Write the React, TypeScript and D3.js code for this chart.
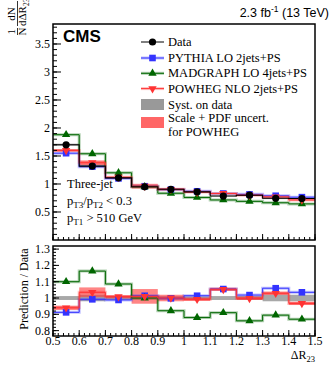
import React from "react";
import * as d3 from "d3";

// bin edges of Delta R23
const edges = [0.5, 0.6, 0.7, 0.8, 0.9, 1.0, 1.1, 1.2, 1.3, 1.4, 1.5];

// normalized distributions (top panel)
const dataVals = [1.70, 1.32, 1.11, 0.95, 0.905, 0.86, 0.785, 0.80, 0.745, 0.74];
const pythiaVals = [1.55, 1.31, 1.10, 0.96, 0.90, 0.87, 0.83, 0.815, 0.79, 0.765];
const madgraphVals = [1.88, 1.54, 1.20, 0.95, 0.835, 0.76, 0.715, 0.69, 0.665, 0.645];
const powhegVals = [1.60, 1.38, 1.12, 0.96, 0.905, 0.855, 0.83, 0.80, 0.77, 0.715];

// prediction / data (bottom panel)
const pythiaRatio = [0.912, 0.992, 0.988, 1.014, 0.998, 1.014, 1.055, 1.018, 1.06, 1.035];
const madgraphRatio = [1.10, 1.165, 1.086, 1.0, 0.922, 0.88, 0.91, 0.86, 0.895, 0.87];
const powhegRatio = [0.94, 1.035, 1.008, 1.01, 1.0, 0.992, 1.053, 0.998, 1.029, 0.967];
// half widths of bands
const powhegUnc = [0.013, 0.03, 0.01, 0.045, 0.02, 0.01, 0.01, 0.01, 0.01, 0.01];
const systUnc = [0.012, 0.02, 0.012, 0.01, 0.01, 0.01, 0.012, 0.012, 0.02, 0.02];

const topTicks = [0.5, 1, 1.5, 2, 2.5, 3, 3.5];
const ratioTicks = [0.8, 0.9, 1, 1.1, 1.2, 1.3];
const xTicks = [0.5, 0.6, 0.7, 0.8, 0.9, 1, 1.1, 1.2, 1.3, 1.4, 1.5];

const BLACK = "#000";
const BLUE = "#3333ff";
const GREEN = "#006600";
const RED = "#ff3333";
const SERIF = "'Liberation Serif', 'DejaVu Serif', serif";
const SANS = "'Liberation Sans', Arial, sans-serif";

const x = d3.scaleLinear().domain([0.5, 1.5]).range([53, 315]);
const yTop = d3.scaleLinear().domain([0, 3.857]).range([240, 24]);
const yBot = d3.scaleLinear().domain([0.767, 1.319]).range([336, 246]);

const stepPath = (vals: number[], y: d3.ScaleLinear<number, number>) => {
  const pts: [number, number][] = [];
  vals.forEach((v, i) => {
    pts.push([x(edges[i]), y(v)]);
    pts.push([x(edges[i + 1]), y(v)]);
  });
  return d3.line()(pts) || "";
};

const mid = (i: number) => (edges[i] + edges[i + 1]) / 2;

const Marker = ({ kind, cx, cy, color }: { kind: string; cx: number; cy: number; color: string }) => {
  if (kind === "circle") return <circle cx={cx} cy={cy} r={3.6} fill={color} />;
  if (kind === "square") return <rect x={cx - 3.3} y={cy - 3.3} width={6.6} height={6.6} fill={color} />;
  const sym = d3.symbol().type(d3.symbolTriangle).size(30)() || "";
  return <path d={sym} transform={`translate(${cx},${cy}) rotate(${kind === "down" ? 180 : 0})`} fill={color} />;
};

const series = [
  { name: "PYTHIA LO 2jets+PS", top: pythiaVals, ratio: pythiaRatio, color: BLUE, kind: "square" },
  { name: "MADGRAPH LO 4jets+PS", top: madgraphVals, ratio: madgraphRatio, color: GREEN, kind: "up" },
  { name: "POWHEG NLO 2jets+PS", top: powhegVals, ratio: powhegRatio, color: RED, kind: "down" },
];

const Ticks = ({ y, major, minorStep, lo, hi, majLen, minLen }: any) => {
  const minors = d3.range(Math.round(lo / minorStep), Math.round(hi / minorStep) + 1).map((k) => k * minorStep);
  return (
    <g stroke={BLACK} strokeWidth={1}>
      {minors.map((v, i) => (
        <line key={"m" + i} x1={53} x2={53 + minLen} y1={y(v)} y2={y(v)} />
      ))}
      {major.map((v: number, i: number) => (
        <line key={"M" + i} x1={53} x2={53 + majLen} y1={y(v)} y2={y(v)} />
      ))}
    </g>
  );
};

const XTicks = ({ yBase }: { yBase: number }) => {
  const minors = d3.range(25, 76).map((k) => k * 0.02);
  return (
    <g stroke={BLACK} strokeWidth={1}>
      {minors.map((v, i) => (
        <line key={"m" + i} x1={x(v)} x2={x(v)} y1={yBase} y2={yBase - 3} />
      ))}
      {xTicks.map((v, i) => (
        <line key={"M" + i} x1={x(v)} x2={x(v)} y1={yBase} y2={yBase - 6} />
      ))}
    </g>
  );
};

export default function App() {
  const legendRows = [
    { name: "Data", color: BLACK, kind: "circle", y: 42 },
    ...series.map((s, i) => ({ name: s.name, color: s.color, kind: s.kind, y: 58 + i * 15.3 })),
  ];
  return (
    <svg width={332} height={375} style={{ position: "absolute", left: 0, top: 0 }}>
      <rect width={332} height={375} fill="#fff" />
      {/* header */}
      <text x={329} y={17} textAnchor="end" fontFamily={SANS} fontSize={12.5}>
        2.3 fb<tspan dy={-5} fontSize={8.5}>-1</tspan>
        <tspan dy={5}> (13 TeV)</tspan>
      </text>

      {/* ---------- top panel ---------- */}
      <g>
        {/* bands */}
        {dataVals.map((v, i) => (
          <rect key={"sy" + i} x={x(edges[i])} width={x(edges[i + 1]) - x(edges[i])}
            y={yTop(v * (1 + systUnc[i]))} height={yTop(v * (1 - systUnc[i])) - yTop(v * (1 + systUnc[i]))}
            fill="#999" opacity={0.8} />
        ))}
        {powhegVals.map((v, i) => (
          <rect key={"pu" + i} x={x(edges[i])} width={x(edges[i + 1]) - x(edges[i])}
            y={yTop(v * (1 + powhegUnc[i]))} height={yTop(v * (1 - powhegUnc[i])) - yTop(v * (1 + powhegUnc[i]))}
            fill={RED} opacity={0.6} />
        ))}
        {series.map((s) => (
          <g key={s.name}>
            <path d={stepPath(s.top, yTop)} fill="none" stroke={s.color} strokeWidth={3} opacity={0.3} />
            <path d={stepPath(s.top, yTop)} fill="none" stroke={s.color} strokeWidth={1} />
          </g>
        ))}
        <path d={stepPath(dataVals, yTop)} fill="none" stroke={BLACK} strokeWidth={1.1} />
        {series.map((s) =>
          s.top.map((v, i) => <Marker key={s.name + i} kind={s.kind} cx={x(mid(i))} cy={yTop(v)} color={s.color} />)
        )}
        {dataVals.map((v, i) => (
          <Marker key={"d" + i} kind="circle" cx={x(mid(i))} cy={yTop(v)} color={BLACK} />
        ))}

        <rect x={53} y={24} width={262} height={216} fill="none" stroke={BLACK} strokeWidth={1.5} />
        <Ticks y={yTop} major={topTicks} minorStep={0.1} lo={0.1} hi={3.8} majLen={8} minLen={4} />
        <XTicks yBase={240} />
        {topTicks.map((v) => (
          <text key={v} x={50} y={yTop(v) + 4} textAnchor="end" fontFamily={SERIF} fontSize={12}>{v}</text>
        ))}

        <text x={63} y={42} fontFamily={SANS} fontWeight="bold" fontSize={17}>CMS</text>

        {/* legend */}
        {legendRows.map((r) => (
          <g key={r.name}>
            {r.color !== BLACK && (
              <line x1={141} x2={164} y1={r.y} y2={r.y} stroke={r.color} strokeWidth={3} opacity={0.3} />
            )}
            <line x1={141} x2={164} y1={r.y} y2={r.y} stroke={r.color} strokeWidth={1} />
            <Marker kind={r.kind} cx={152.5} cy={r.y} color={r.color} />
            <text x={168} y={r.y + 4} fontFamily={SERIF} fontSize={12.5}>{r.name}</text>
          </g>
        ))}
        <rect x={141} y={99} width={23} height={11} fill="#999" />
        <text x={168} y={109} fontFamily={SERIF} fontSize={12.5}>Syst. on data</text>
        <rect x={141} y={117} width={23} height={11} fill={RED} opacity={0.75} />
        <text x={168} y={122} fontFamily={SERIF} fontSize={12.5}>Scale + PDF uncert.</text>
        <text x={168} y={136} fontFamily={SERIF} fontSize={12.5}>for POWHEG</text>

        {/* annotation */}
        <text x={67} y={188} fontFamily={SERIF} fontSize={12.5}>Three-jet</text>
        <text x={67} y={205} fontFamily={SERIF} fontSize={12.5}>
          p<tspan dy={3} fontSize={9}>T3</tspan><tspan dy={-3}>/p</tspan><tspan dy={3} fontSize={9}>T2</tspan>
          <tspan dy={-3}> &lt; 0.3</tspan>
        </text>
        <text x={67} y={222} fontFamily={SERIF} fontSize={12.5}>
          p<tspan dy={3} fontSize={9}>T1</tspan><tspan dy={-3}> &gt; 510 GeV</tspan>
        </text>

        {/* y title */}
        <g transform="translate(17,35) rotate(-90)" fontFamily={SERIF} fontSize={11}>
          <text x={3.2} y={-2} textAnchor="middle">1</text>
          <line x1={0} x2={7} y1={0.5} y2={0.5} stroke={BLACK} strokeWidth={0.8} />
          <text x={3.5} y={9} textAnchor="middle">N</text>
          <text x={21} y={-2} textAnchor="middle">dN</text>
          <line x1={9} x2={34} y1={0.5} y2={0.5} stroke={BLACK} strokeWidth={0.8} />
          <text x={9} y={9}>dΔR<tspan dy={2.5} fontSize={7.5}>23</tspan></text>
        </g>
      </g>

      {/* ---------- ratio panel ---------- */}
      <g>
        {systUnc.map((h, i) => (
          <rect key={"s" + i} x={x(edges[i])} width={x(edges[i + 1]) - x(edges[i])}
            y={yBot(1 + h)} height={yBot(1 - h) - yBot(1 + h)} fill="#999" opacity={0.85} />
        ))}
        {powhegRatio.map((v, i) => (
          <rect key={"p" + i} x={x(edges[i])} width={x(edges[i + 1]) - x(edges[i])}
            y={yBot(v + powhegUnc[i])} height={yBot(v - powhegUnc[i]) - yBot(v + powhegUnc[i])}
            fill={RED} opacity={0.6} />
        ))}
        {series.map((s) => (
          <g key={s.name}>
            <path d={stepPath(s.ratio, yBot)} fill="none" stroke={s.color} strokeWidth={3} opacity={0.3} />
            <path d={stepPath(s.ratio, yBot)} fill="none" stroke={s.color} strokeWidth={1} />
          </g>
        ))}
        {series.map((s) =>
          s.ratio.map((v, i) => <Marker key={s.name + "r" + i} kind={s.kind} cx={x(mid(i))} cy={yBot(v)} color={s.color} />)
        )}

        <rect x={53} y={246} width={262} height={90} fill="none" stroke={BLACK} strokeWidth={1.5} />
        <Ticks y={yBot} major={ratioTicks} minorStep={0.02} lo={0.78} hi={1.3} majLen={6} minLen={3} />
        <XTicks yBase={336} />
        {ratioTicks.map((v) => (
          <text key={v} x={50} y={yBot(v) + 4} textAnchor="end" fontFamily={SERIF} fontSize={12}>{v}</text>
        ))}
        {xTicks.map((v) => (
          <text key={v} x={x(v)} y={345} textAnchor="middle" fontFamily={SERIF} fontSize={12}>{v}</text>
        ))}
        <text x={315} y={359} textAnchor="end" fontFamily={SERIF} fontSize={12}>
          ΔR<tspan dy={3} fontSize={8.5}>23</tspan>
        </text>
        <text transform="translate(28,289) rotate(-90)" textAnchor="middle" fontFamily={SERIF} fontSize={12}>
          Prediction / Data
        </text>
      </g>
    </svg>
  );
}
